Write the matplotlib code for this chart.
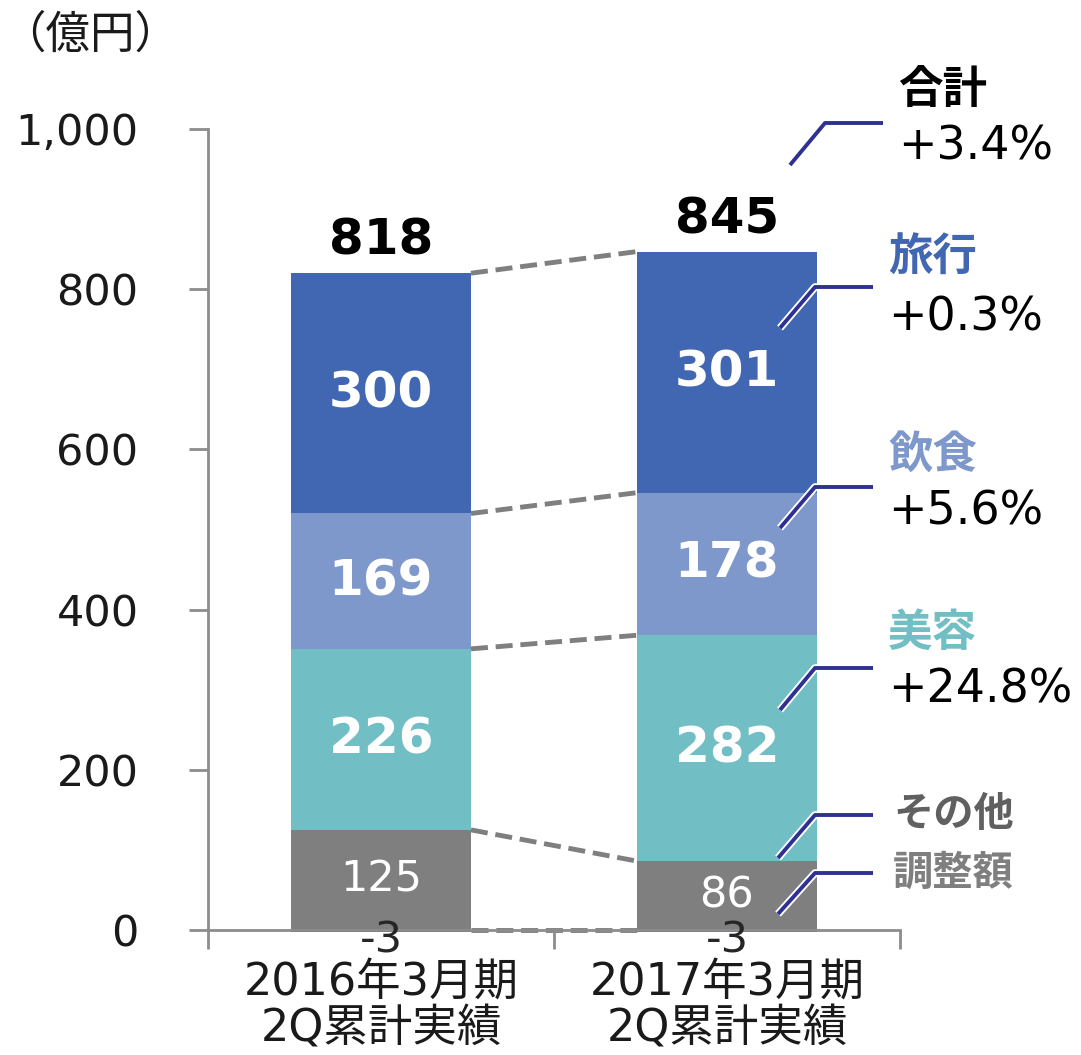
import matplotlib
matplotlib.use("Agg")
import matplotlib.pyplot as plt
import numpy as np

plt.rcParams['font.family'] = ['DejaVu Sans', 'Noto Sans CJK JP']

# data
categories = ["2016年3月期\n2Q累計実績", "2017年3月期\n2Q累計実績"]
segments = ["その他", "美容", "飲食", "旅行"]
other = [125, 86]
beauty = [226, 282]
food = [169, 178]
travel = [300, 301]
adjust = [-3, -3]
totals = [818, 845]
growth_labels = ["合計", "旅行", "飲食", "美容", "その他", "調整額"]
growth_values = ["+3.4%", "+0.3%", "+5.6%", "+24.8%", "", ""]

colors = ["#7F7F7F", "#71BFC4", "#7F98CC", "#4267B2"]
label_colors = ["#000000", "#4267B2", "#7F98CC", "#71BFC4", "#606060", "#7F7F7F"]

W, H = 1081, 1055
fig = plt.figure(figsize=(W / 100, H / 100), dpi=100)
ax = fig.add_axes([208 / W, 1 - 930 / H, (900 - 208) / W, (930 - 129) / H])

x = np.arange(len(categories))
bw = 0.52
series = [other, beauty, food, travel]
bottom = np.zeros(len(categories))
levels = [bottom.copy()]
for vals, col in zip(series, colors):
    ax.bar(x, vals, bw, bottom=bottom, color=col, linewidth=0, zorder=2)
    for xi, (v, b) in enumerate(zip(vals, bottom)):
        bold = col != colors[0]
        ax.text(xi, b + v / 2, str(v), ha='center', va='center', color='white',
                fontsize=36 if bold else 31, fontweight='bold' if bold else 'normal', zorder=4)
    bottom = bottom + np.array(vals)
    levels.append(bottom.copy())

# negative adjustment
ax.bar(x, adjust, bw, color="#2E3A87", linewidth=0, zorder=2, clip_on=False)
for xi, v in enumerate(adjust):
    ax.text(xi, v - 10, str(v), ha='center', va='center', color='#262626', fontsize=31, zorder=5,
            clip_on=False)

# totals
for xi, t in enumerate(totals):
    ax.annotate(str(t), (xi, levels[-1][xi]), xytext=(0, 6), textcoords='offset points',
                ha='center', va='bottom', fontsize=36, fontweight='bold', color='black')

# connectors
for lv in levels:
    ax.plot([bw / 2, 1 - bw / 2], [lv[0], lv[1]], ls=(0, (3.5, 1.6)), color='#7F7F7F', lw=3.5,
            zorder=1, clip_on=False)

ax.set_xlim(-0.5, 1.5)
ax.set_ylim(0, 1000)
ax.set_yticks([0, 200, 400, 600, 800, 1000])
ax.set_yticklabels(["0", "200", "400", "600", "800", "1,000"])
ax.set_xticks([-0.5, 0.5, 1.5], minor=False)
ax.set_xticklabels([])
for xi, c in enumerate(categories):
    ax.text(xi, -38, c, ha='center', va='top', fontsize=32, color='#1A1A1A', linespacing=1.12,
            transform=ax.transData)
for s in ['top', 'right']:
    ax.spines[s].set_visible(False)
for s in ['left', 'bottom']:
    ax.spines[s].set_color('#8C8C8C')
    ax.spines[s].set_linewidth(2)
ax.tick_params(axis='y', length=14, width=2, color='#8C8C8C', labelsize=31, pad=36,
               labelcolor='#1A1A1A', direction='out')
ax.tick_params(axis='x', length=14, width=2, color='#8C8C8C', direction='out')

fig.text(1 / W, 1 - 35 / H, "（億円）", fontsize=32, va='center', ha='left',
         family=['Noto Sans CJK JP'], color='#1A1A1A')


def px(xp, yp):
    return xp / W, 1 - yp / H


# callouts: (start, knee, end) in pixels
callouts = [
    ((790, 165), (825, 123), (883, 123)),
    ((780, 328), (815, 287), (873, 287)),
    ((780, 528), (815, 487), (873, 487)),
    ((780, 710), (815, 668), (873, 668)),
    ((778, 858), (815, 815), (873, 815)),
    ((778, 914), (815, 873), (873, 873)),
]
for i, pts in enumerate(callouts):
    xs = [px(*p)[0] for p in pts]
    ys = [px(*p)[1] for p in pts]
    if i > 0:
        fig.add_artist(plt.Line2D(xs, ys, color='white', lw=5.5, solid_capstyle='butt'))
    fig.add_artist(plt.Line2D(xs, ys, color='#2E3192', lw=2.8, solid_capstyle='butt'))

name_pos = [(898, 90), (888, 258), (888, 455), (888, 633), (893, 814), (893, 873)]
val_pos = [(898, 147), (888, 318), (888, 512), (888, 690)]
for i, (name, col) in enumerate(zip(growth_labels, label_colors)):
    fs = 32 if i < 4 else 29
    fig.text(*px(*name_pos[i]), name, fontsize=fs, fontweight='bold', color=col,
             va='center', ha='left', family=['Noto Sans CJK JP'])
    if growth_values[i]:
        fig.text(*px(*val_pos[i]), growth_values[i], fontsize=33, color='black',
                 va='center', ha='left')

fig.savefig("out.png", dpi=100)
